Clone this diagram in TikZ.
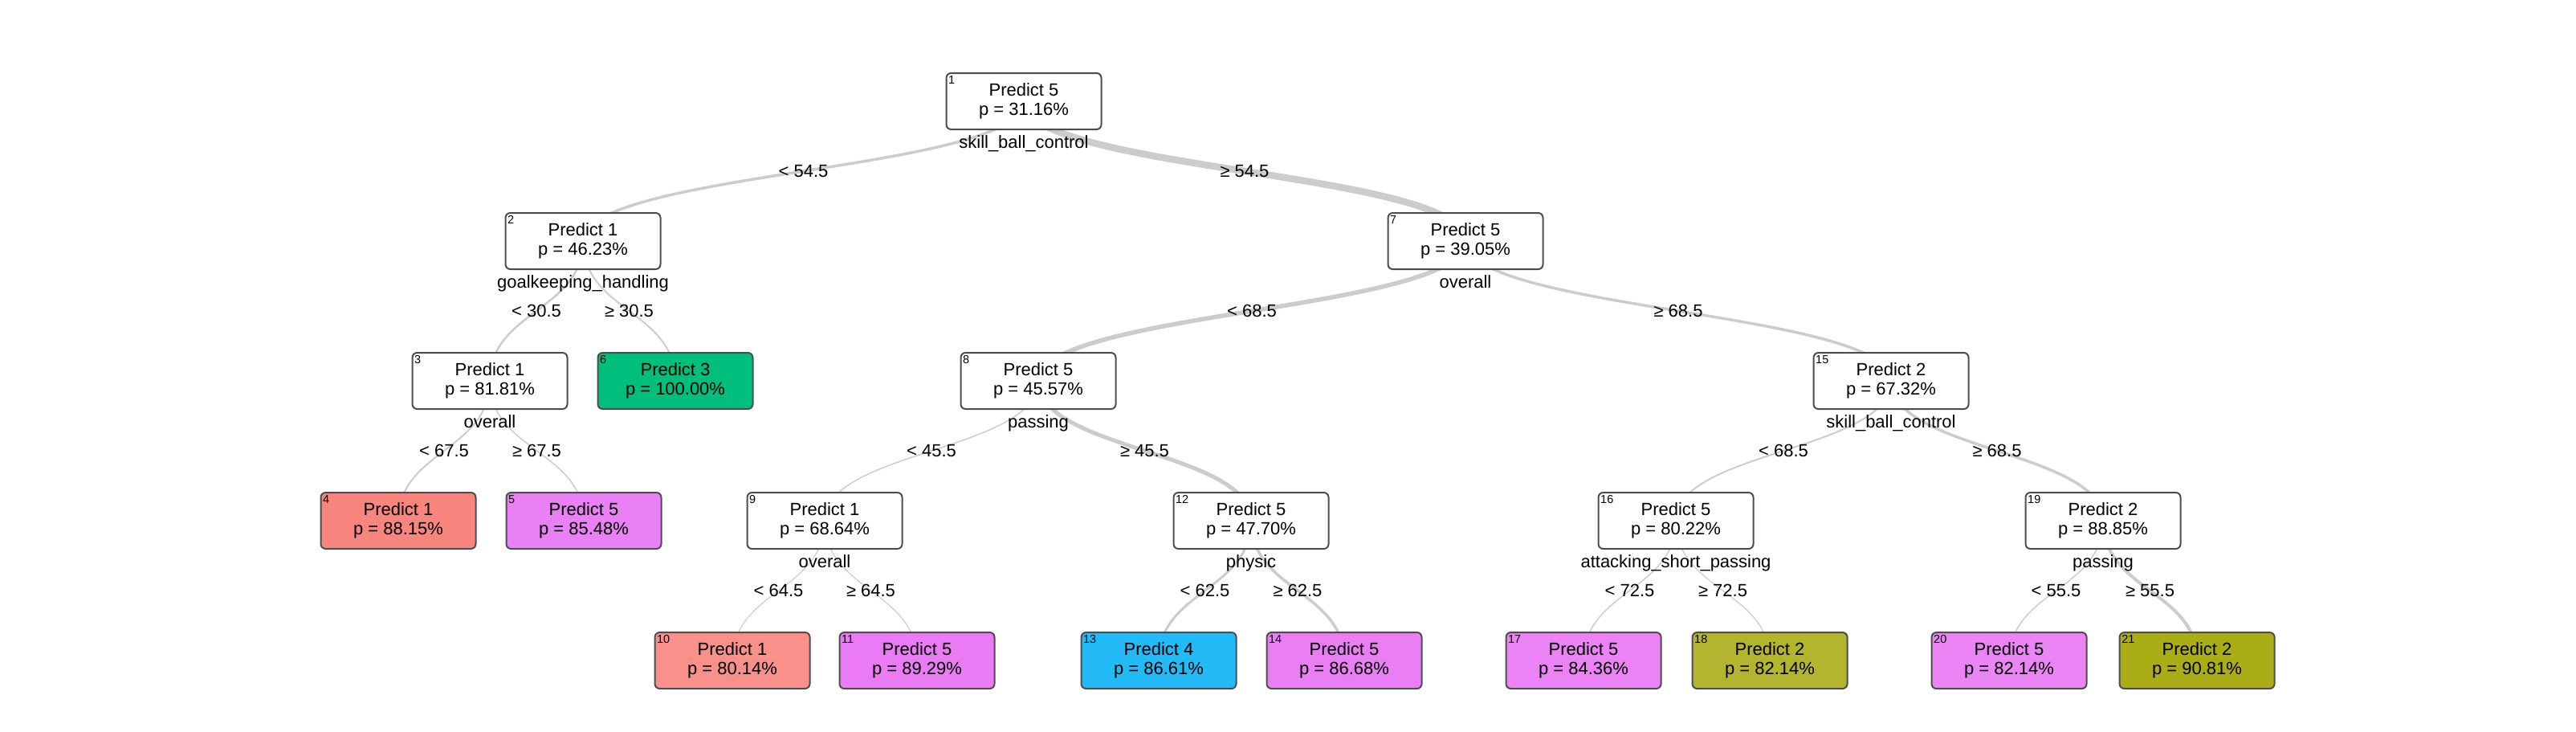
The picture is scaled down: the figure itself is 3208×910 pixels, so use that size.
\documentclass[tikz,border=0pt]{standalone}
\usepackage{fontspec}
\setmainfont{Liberation Sans}
\usepackage{tikz}
\usetikzlibrary{calc,backgrounds}
\definecolor{class1}{HTML}{F8766D}
\definecolor{class2}{HTML}{A3A500}
\definecolor{class3}{HTML}{00BF7D}
\definecolor{class4}{HTML}{00B0F6}
\definecolor{class5}{HTML}{E76BF3}
\definecolor{branchgray}{HTML}{CCCCCC}
\definecolor{boxline}{HTML}{4D4D4D}
\newlength{\TreePx}
\setlength{\TreePx}{0.1mm}
\newcommand{\TreeFont}{\fontsize{6.25pt}{6.85pt}\selectfont}
\newcommand{\TreeTagFont}{\fontsize{4.1pt}{4.3pt}\selectfont}

\begin{document}
\begin{tikzpicture}[x=\TreePx,y=-\TreePx]
    \tikzset{
        tree node/.style={draw=boxline, line width=2\TreePx, rounded corners=6\TreePx,
            minimum width=193\TreePx, minimum height=70\TreePx, inner sep=0pt,
            align=center, font=\TreeFont},
        tree tag/.style={anchor=north west, inner sep=0pt, font=\TreeTagFont},
        tree split/.style={anchor=north, inner sep=0pt, font=\TreeFont},
        tree cut/.style={inner sep=0pt, font=\TreeFont},
        tree branch/.style={draw=branchgray, line cap=butt}
    }
    \useasboundingbox (0,0) rectangle (3208,910);
    % split nodes
    \foreach \id/\xx/\yy/\cls/\prob/\split in {
            1/1275/126/5/31.16/skill\_ball\_control,
            2/726/300/1/46.23/goalkeeping\_handling,
            7/1825/300/5/39.05/overall,
            3/610/474/1/81.81/overall,
            8/1293/474/5/45.57/passing,
            15/2355/474/2/67.32/skill\_ball\_control,
            9/1027/648/1/68.64/overall,
            12/1558/648/5/47.70/physic,
            16/2087/648/5/80.22/attacking\_short\_passing,
            19/2619/648/2/88.85/passing} {
        \node[tree node, fill=white] (n\id) at (\xx,\yy) {Predict \cls\\p = \prob\%};
        \node[tree tag] (n\id-tag) at ([xshift=3\TreePx,yshift=-4\TreePx]n\id.north west) {\id};
        \node[tree split] (n\id-split) at ([yshift=-6\TreePx]n\id.south) {\split};
    }
    % leaves, shaded by class and purity
    \foreach \id/\xx/\yy/\cls/\prob in {
            6/841/474/3/100.00,
            4/496/648/1/88.15,
            5/727/648/5/85.48,
            10/912/822/1/80.14,
            11/1142/822/5/89.29,
            13/1443/822/4/86.61,
            14/1674/822/5/86.68,
            17/1972/822/5/84.36,
            18/2204/822/2/82.14,
            20/2502/822/5/82.14,
            21/2736/822/2/90.81} {
        \node[tree node, fill=class\cls!\prob!white] (n\id) at (\xx,\yy) {Predict \cls\\p = \prob\%};
        \node[tree tag] (n\id-tag) at ([xshift=3\TreePx,yshift=-4\TreePx]n\id.north west) {\id};
    }
    \foreach \p/\c/\w/\cut in {
            1/2/3.5/{< 54.5}, 1/7/8.5/{≥ 54.5},
            2/3/2.5/{< 30.5}, 2/6/2/{≥ 30.5},
            3/4/2/{< 67.5}, 3/5/1.5/{≥ 67.5},
            7/8/5.5/{< 68.5}, 7/15/3.5/{≥ 68.5},
            8/9/1.5/{< 45.5}, 8/12/5/{≥ 45.5},
            9/10/1.2/{< 64.5}, 9/11/1.2/{≥ 64.5},
            12/13/3/{< 62.5}, 12/14/3.5/{≥ 62.5},
            15/16/2/{< 68.5}, 15/19/3.5/{≥ 68.5},
            16/17/1.5/{< 72.5}, 16/18/1.2/{≥ 72.5},
            19/20/1.5/{< 55.5}, 19/21/4/{≥ 55.5}} {
        \path (n\p.center) -- (n\c.center) coordinate[pos=0.5] (mid\p x\c);
        \begin{scope}[on background layer]
            \draw[tree branch, line width=\w\TreePx] (n\p.center)
                .. controls (n\p.center |- mid\p x\c) and (n\c.center |- mid\p x\c) .. (n\c.center);
        \end{scope}
        \node[tree cut] (cut\p x\c) at (mid\p x\c) {\cut};
    }
\end{tikzpicture}
\end{document}
